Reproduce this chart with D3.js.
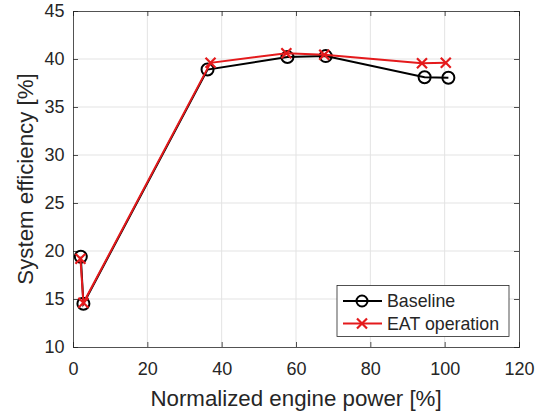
<!DOCTYPE html>
<html><head><meta charset="utf-8">
<script src="https://d3js.org/d3.v7.min.js"></script>
<style>
body{margin:0;background:#fff;}
text{font-family:"Liberation Sans",Arial,sans-serif;fill:#262626;}
</style>
</head>
<body>
<script>
// data
var baseX = [2.1, 2.8, 36.2, 57.7, 68.0, 94.6, 101.0];
var baseY = [19.4, 14.5, 38.9, 40.2, 40.3, 38.1, 38.05];
var eatX = [2.0, 2.8, 37.0, 57.4, 67.6, 93.9, 100.3];
var eatY = [19.2, 14.6, 39.6, 40.6, 40.45, 39.55, 39.6];
var xTicks = [0, 20, 40, 60, 80, 100, 120];
var yTicks = [10, 15, 20, 25, 30, 35, 40, 45];
var seriesNames = ["Baseline", "EAT operation"];

var W = 545, H = 415;
var pLeft = 73, pRight = 519, pTop = 11, pBottom = 347;
var red = "#e41a1c";

var svg = d3.select("body").append("svg")
  .attr("width", W).attr("height", H);

var x = d3.scaleLinear().domain([0,120]).range([pLeft,pRight]);
var y = d3.scaleLinear().domain([10,45]).range([pBottom,pTop]);

// grid
svg.append("g").selectAll("line").data(xTicks.slice(1,-1)).enter().append("line")
  .attr("x1",d=>x(d)).attr("x2",d=>x(d)).attr("y1",pTop).attr("y2",pBottom)
  .attr("stroke","#e3e3e3").attr("stroke-width",1);
svg.append("g").selectAll("line").data(yTicks.slice(1,-1)).enter().append("line")
  .attr("y1",d=>y(d)).attr("y2",d=>y(d)).attr("x1",pLeft).attr("x2",pRight)
  .attr("stroke","#e3e3e3").attr("stroke-width",1);

// axes
var xa = svg.append("g").attr("transform","translate(0,"+pBottom+")")
  .call(d3.axisBottom(x).tickValues(xTicks).tickSize(-5).tickPadding(15));
var xt = svg.append("g").attr("transform","translate(0,"+pTop+")")
  .call(d3.axisTop(x).tickValues(xTicks).tickSize(-5).tickFormat(""));
var ya = svg.append("g").attr("transform","translate("+pLeft+",0)")
  .call(d3.axisLeft(y).tickValues(yTicks).tickSize(-5).tickPadding(8.5));
var yr = svg.append("g").attr("transform","translate("+pRight+",0)")
  .call(d3.axisRight(y).tickValues(yTicks).tickSize(-5).tickFormat(""));
[xa,xt,ya,yr].forEach(function(g){
  g.selectAll("path,line").attr("stroke","#262626").attr("stroke-width",0.8);
  g.selectAll("text").style("font-size","18px").attr("fill","#262626");
});

// axis labels
svg.append("text").attr("x",(pLeft+pRight)/2).attr("y",406)
  .attr("text-anchor","middle").style("font-size","22.3px")
  .text("Normalized engine power [%]");
svg.append("text").attr("transform","translate(33,"+((pTop+pBottom)/2)+") rotate(-90)")
  .attr("text-anchor","middle").style("font-size","22.3px")
  .text("System efficiency [%]");

// series
var base = baseX.map((v,i)=>[v,baseY[i]]);
var eat = eatX.map((v,i)=>[v,eatY[i]]);
var line = d3.line().x(d=>x(d[0])).y(d=>y(d[1]));

svg.append("path").datum(base).attr("d",line)
  .attr("fill","none").attr("stroke","#000").attr("stroke-width",2);
svg.append("g").selectAll("circle").data(base).enter().append("circle")
  .attr("cx",d=>x(d[0])).attr("cy",d=>y(d[1])).attr("r",6)
  .attr("fill","none").attr("stroke","#000").attr("stroke-width",2);

svg.append("path").datum(eat).attr("d",line)
  .attr("fill","none").attr("stroke",red).attr("stroke-width",2);
function cross(g, cx, cy, s){
  g.append("path").attr("d","M"+(cx-s)+","+(cy-s)+"L"+(cx+s)+","+(cy+s)+"M"+(cx-s)+","+(cy+s)+"L"+(cx+s)+","+(cy-s))
   .attr("stroke",red).attr("stroke-width",2.2).attr("fill","none");
}
var eg = svg.append("g");
eat.forEach(function(d){ cross(eg, x(d[0]), y(d[1]), 5); });

// legend
var lg = svg.append("g");
lg.append("rect").attr("x",337).attr("y",285.5).attr("width",172).attr("height",51)
  .attr("fill","#fff").attr("stroke","#262626").attr("stroke-width",0.8);
var ly = [301, 323.5];
lg.append("line").attr("x1",343).attr("x2",382).attr("y1",ly[0]).attr("y2",ly[0])
  .attr("stroke","#000").attr("stroke-width",2);
lg.append("circle").attr("cx",362).attr("cy",ly[0]).attr("r",5.5)
  .attr("fill","none").attr("stroke","#000").attr("stroke-width",2);
lg.append("line").attr("x1",343).attr("x2",382).attr("y1",ly[1]).attr("y2",ly[1])
  .attr("stroke",red).attr("stroke-width",2);
cross(lg, 362, ly[1], 5);
seriesNames.forEach(function(n,i){
  lg.append("text").attr("x",387).attr("y",ly[i]+6).style("font-size","17.8px")
    .attr("fill","#000").text(n);
});
</script>
</body></html>
